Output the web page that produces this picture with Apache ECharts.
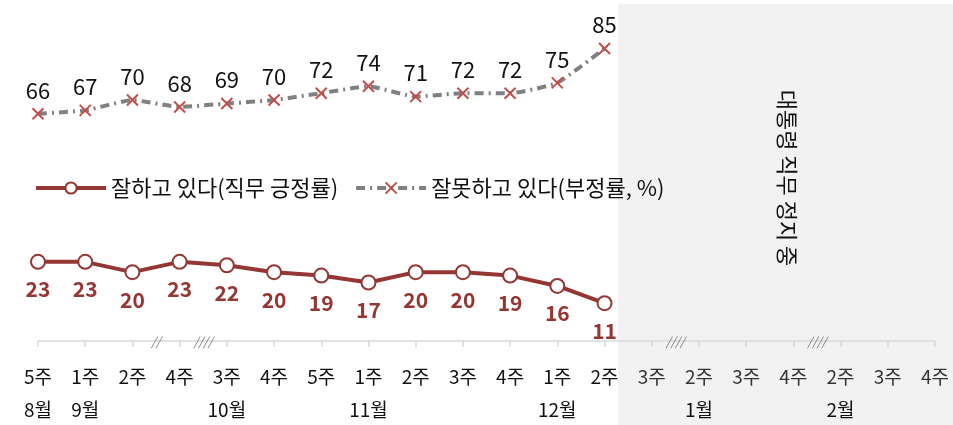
<!DOCTYPE html>
<html>
<head>
<meta charset="utf-8">
<script src="https://cdn.jsdelivr.net/npm/echarts@6/dist/echarts.min.js"></script>
<style>html,body{margin:0;padding:0;background:#fff}#c{width:953px;height:425px}</style>
</head>
<body>
<div id="c"></div>
<script>
const weeks = ['5주','1주','2주','4주','3주','4주','5주','1주','2주','3주','4주','1주','2주','3주','2주','3주','4주','2주','3주','4주'];
const months = ['8월','9월','','','10월','','','11월','','','','12월','','','1월','','','2월','',''];
const approve = [23,23,20,23,22,20,19,17,20,20,19,16,11,null,null,null,null,null,null,null];
const disapprove = [66,67,70,68,69,70,72,74,71,72,72,75,85,null,null,null,null,null,null,null];
const breaks = [[2,3,'//'],[3,4,'////'],[13,14,'////'],[16,17,'////']];
const lastActive = 12;
const pauseText = '대통령 직무 정지 중';

const FONT = '"Noto Sans CJK KR", "Noto Sans", sans-serif';
const chart = echarts.init(document.getElementById('c'));
const cats = weeks.map((w,i)=>i);
chart.setOption({
  animation:false,
  textStyle:{fontFamily:FONT},
  grid:{left:38,right:18,top:14,bottom:84},
  legend:{
    left:29, top:172, itemWidth:70, itemHeight:14, itemGap:16,
    textStyle:{fontSize:22,color:'#111',fontFamily:FONT},
    data:[
      {name:'잘하고 있다(직무 긍정률)',lineStyle:{width:4,color:'#943634'}},
      {name:'잘못하고 있다(부정률, %)',lineStyle:{width:4,color:'#808080',type:[9,5,2,5]}}
    ]
  },
  xAxis:{
    type:'category', data:cats, boundaryGap:false,
    axisLine:{lineStyle:{color:'#d9d9d9',width:1.5}},
    axisTick:{inside:false,length:6,lineStyle:{color:'#d9d9d9',width:1.5}},
    axisLabel:{
      interval:0, margin:19,
      formatter:(v,i)=>{
        const idx = Number(v);
        const st = idx>lastActive ? 'g':'w';
        return '{'+st+'|'+weeks[idx]+'}\n{m|'+(months[idx]||' ')+'}';
      },
      rich:{
        w:{fontSize:19,color:'#111',lineHeight:33,fontFamily:FONT},
        g:{fontSize:19,color:'#333',lineHeight:33,fontFamily:FONT},
        m:{fontSize:19,color:'#111',lineHeight:33,fontFamily:FONT}
      }
    },
    splitLine:{show:false}
  },
  yAxis:{type:'value',min:0,max:95,show:false,splitLine:{show:false}},
  series:[
    {
      name:'잘하고 있다(직무 긍정률)', type:'line', data:approve, z:5,
      symbol:'circle', symbolSize:14, showAllSymbol:true,
      lineStyle:{color:'#943634',width:4},
      itemStyle:{color:'#fff',borderColor:'#943634',borderWidth:2},
      label:{show:true,position:'bottom',distance:9,fontSize:21,fontWeight:'bold',color:'#943634',fontFamily:FONT}
    },
    {
      name:'잘못하고 있다(부정률, %)', type:'line', data:disapprove, z:5, smooth:0.15,
      symbol:'path://M0,0L10,10M10,0L0,10', symbolSize:11, showAllSymbol:true,
      lineStyle:{color:'#808080',width:4,type:[9,5,2,5]},
      itemStyle:{color:'#c0504d',borderColor:'#c0504d',borderWidth:2},
      label:{show:true,position:'top',distance:6,fontSize:22,color:'#111',fontFamily:FONT}
    }
  ]
});

const g = [];
g.push({type:'rect',z:-10,shape:{x:618,y:4,width:335,height:421},style:{fill:'#f2f2f2'},silent:true});
const axisY = chart.convertToPixel({yAxisIndex:0},0);
breaks.forEach(b=>{
  const x = (chart.convertToPixel({xAxisIndex:0},b[0])+chart.convertToPixel({xAxisIndex:0},b[1]))/2;
  g.push({type:'text',z:10,x:x,y:axisY,style:{text:b[2],fontSize:12,fontStyle:'italic',fill:'#777',align:'center',verticalAlign:'middle',fontFamily:FONT}});
});
g.push({type:'text',z:10,x:787,y:178,rotation:-Math.PI/2,style:{text:pauseText,fontSize:22,fill:'#111',align:'center',verticalAlign:'middle',fontFamily:FONT}});
chart.setOption({graphic:{elements:g}});
</script>
</body>
</html>
